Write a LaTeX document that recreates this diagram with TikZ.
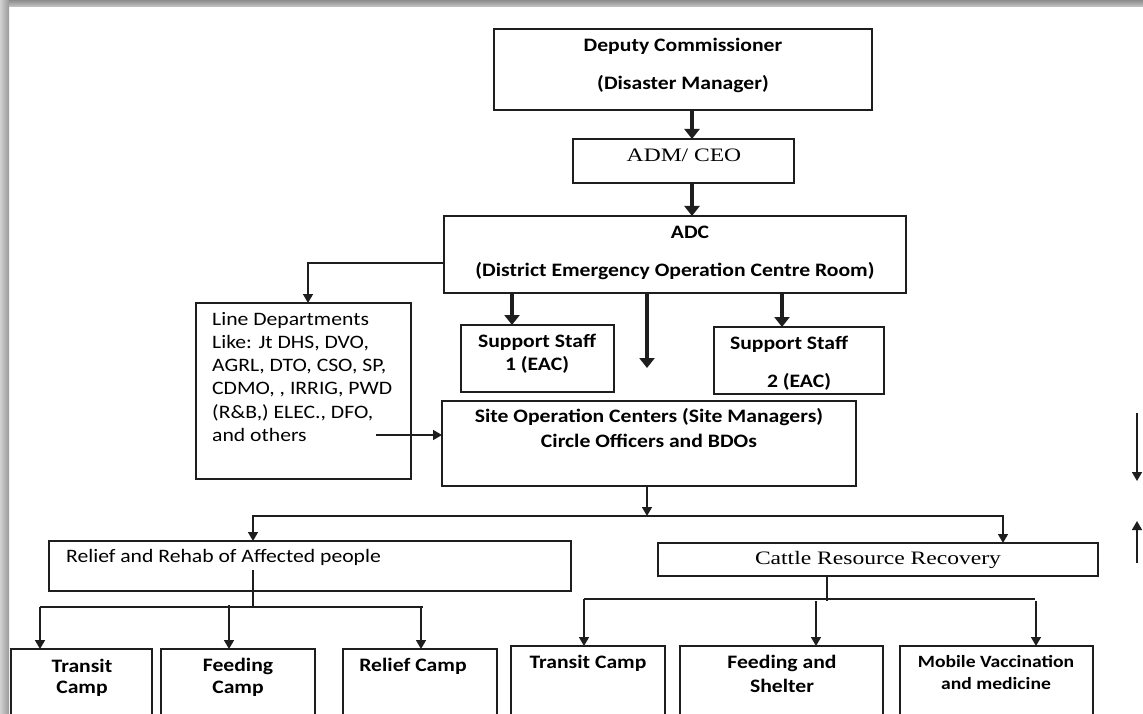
\documentclass[tikz,border=0pt]{standalone}
\usepackage{fontspec}
\setmainfont{Carlito}[FakeStretch=1.14]
\newfontfamily\tnr{Liberation Serif}[FakeStretch=1.24]
\usetikzlibrary{arrows.meta}
\definecolor{ink}{HTML}{1E1E1E}
\begin{document}
\begin{tikzpicture}[x=1pt,y=-1pt,
  box/.style={draw=ink, line width=1.7pt, inner sep=0pt, outer sep=0pt, anchor=north west},
  lbl/.style={inner sep=0pt, text=black, font=\fontsize{19}{23}\selectfont\bfseries},
  small lbl/.style={inner sep=0pt, text=black, font=\fontsize{17.2}{21}\selectfont\bfseries},
  plain/.style={inner sep=0pt, text=black, font=\fontsize{19}{23.2}\selectfont},
  serif/.style={inner sep=0pt, text=black, font=\fontsize{19}{23}\selectfont\tnr},
  thick arrow/.style={draw=ink, line width=3.2pt, -{Triangle[length=10pt,width=15pt]}},
  thin arrow/.style={draw=ink, line width=1.5pt, -{Triangle[length=9pt,width=10pt]}},
  thin line/.style={draw=ink, line width=1.5pt}
]
\clip (0,0) rectangle (1143,714);
\fill[white] (0,0) rectangle (1143,714);
% page shadow
\shade[top color=black!45, bottom color=black!22] (0,0) rectangle (1143,7);
\shade[left color=black!18, right color=black!40] (0,0) rectangle (9,714);

% boxes
\node[box, minimum width=378pt, minimum height=81pt] (dc) at (494,29) {};
\node[box, minimum width=221pt, minimum height=44pt] (adm) at (573,139) {};
\node[box, minimum width=462pt, minimum height=77pt] (adc) at (444,216) {};
\node[box, minimum width=215pt, minimum height=176pt] (line) at (196,303) {};
\node[box, minimum width=153pt, minimum height=67pt] (ss1) at (461,325) {};
\node[box, minimum width=170pt, minimum height=67pt] (ss2) at (714,327) {};
\node[box, minimum width=414pt, minimum height=85pt] (site) at (442,401) {};
\node[box, minimum width=522pt, minimum height=50pt] (relief) at (49,541) {};
\node[box, minimum width=440pt, minimum height=33pt] (cattle) at (658,543) {};
\node[box, minimum width=141pt, minimum height=90pt] (t1) at (11,649) {};
\node[box, minimum width=154pt, minimum height=90pt] (f1) at (161,649) {};
\node[box, minimum width=154pt, minimum height=90pt] (r1) at (343,649) {};
\node[box, minimum width=154pt, minimum height=90pt] (t2) at (511,646) {};
\node[box, minimum width=203pt, minimum height=90pt] (f2) at (680,646) {};
\node[box, minimum width=193pt, minimum height=90pt] (m2) at (900,646) {};

% texts
\node[lbl] (dcA) at (683,46) {Deputy Commissioner};
\node[lbl] (dcB) at (683,84) {(Disaster Manager)};
\node[serif] (admA) at (684,155) {ADM/ CEO};
\node[lbl] (adcA) at (690,232) {ADC};
\node[lbl] (adcB) at (675,271) {(District Emergency Operation Centre Room)};
\node[lbl] (ss1A) at (537,342) {Support Staff};
\node[lbl] (ss1B) at (537,365) {1 (EAC)};
\node[lbl] (ss2A) at (789,344) {Support Staff};
\node[lbl] (ss2B) at (799,382) {2 (EAC)};
\node[lbl] (siteA) at (649,417) {Site Operation Centers (Site Managers)};
\node[lbl] (siteB) at (649,441) {Circle Officers and BDOs};
\node[plain, anchor=north west, align=left] (ldT) at (212,312)
  {Line Departments\\Like: Jt DHS, DVO,\\AGRL, DTO, CSO, SP,\\CDMO, , IRRIG, PWD\\(R\&B,) ELEC., DFO,\\and others};
\node[plain, anchor=west] (relT) at (66,557) {Relief and Rehab of Affected people};
\node[serif] (catT) at (878,560) {Cattle Resource Recovery};
\node[lbl] (t1A) at (82,666) {Transit};
\node[lbl] (t1B) at (82,689) {Camp};
\node[lbl] (f1A) at (238,666) {Feeding};
\node[lbl] (f1B) at (238,689) {Camp};
\node[lbl] (r1A) at (413,666) {Relief Camp};
\node[lbl] (t2A) at (588,663) {Transit Camp};
\node[lbl] (f2A) at (782,663) {Feeding and};
\node[lbl] (f2B) at (782,686) {Shelter};
\node[small lbl] (m2A) at (996,662) {Mobile Vaccination};
\node[small lbl] (m2B) at (996,684) {and medicine};

% reference coordinates
\coordinate (cA) at (692,0);
\coordinate (cB) at (0,263);
\coordinate (cC) at (308,0);
\coordinate (cD) at (512,0);
\coordinate (cE) at (782,0);
\coordinate (midtip) at (647,368);
\coordinate (ldout) at (376,435);
\coordinate (barL) at (253,516);
\coordinate (barM) at (647,516);
\coordinate (barR) at (1003,516);
\coordinate (rs) at (253,570);
\coordinate (rbar) at (253,607);
\coordinate (rb1) at (40,607);
\coordinate (rb2) at (229,605);
\coordinate (rb3) at (423,607);
\coordinate (rb4) at (421,607);
\coordinate (cs) at (827,601);
\coordinate (cb1) at (584,599);
\coordinate (cb2) at (816,601);
\coordinate (cb3) at (1035,599);
\coordinate (cb4) at (1036,601);
\coordinate (ra1) at (1137,413);
\coordinate (ra2) at (1137,481);
\coordinate (ra3) at (1137,563);
\coordinate (ra4) at (1137,521);

% connectors
\draw[thick arrow] (dc.south -| cA) -- (adm.north -| cA);
\draw[thick arrow] (adm.south -| cA) -- (adc.north -| cA);
\draw[thin arrow] (adc.west |- cB) -| (line.north -| cC);
\draw[thick arrow] (adc.south -| cD) -- (ss1.north -| cD);
\draw[thick arrow] (adc.south -| midtip) -- (midtip);
\draw[thick arrow] (adc.south -| cE) -- (ss2.north -| cE);
\draw[thin arrow] (ldout) -- (site.west |- ldout);
\draw[thin arrow] (site.south -| barM) -- (barM);
\draw[thin line, {Triangle[length=9pt,width=10pt]}-{Triangle[length=9pt,width=10pt]}]
  (relief.north -| barL) -- (barL) -- (barR) -- (cattle.north -| barR);

\draw[thin line] (rs) -- (rbar);
\draw[thin line] (rb1) -- (rb3);
\draw[thin arrow] (rb1) -- (t1.north -| rb1);
\draw[thin arrow] (rb2) -- (f1.north -| rb2);
\draw[thin arrow] (rb4) -- (r1.north -| rb4);

\draw[thin line] (cattle.south -| cs) -- (cs);
\draw[thin line] (cb1) -- (cb3);
\draw[thin arrow] (cb1) -- (t2.north -| cb1);
\draw[thin arrow] (cb2) -- (f2.north -| cb2);
\draw[thin arrow] (cb4) -- (m2.north -| cb4);

\draw[thin arrow] (ra1) -- (ra2);
\draw[thin arrow] (ra3) -- (ra4);
\end{tikzpicture}
\end{document}
